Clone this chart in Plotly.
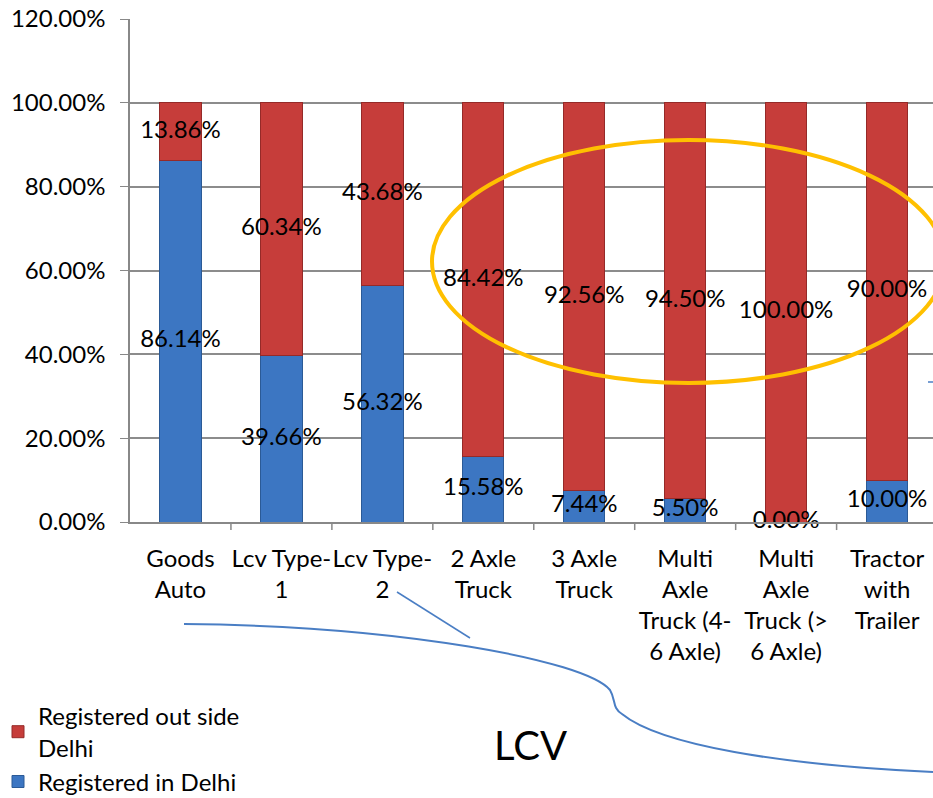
import plotly.graph_objects as go

categories = ["Goods<br>Auto", "Lcv Type-<br>1", "Lcv Type-<br>2", "2 Axle<br>Truck", "3 Axle<br>Truck",
              "Multi<br>Axle<br>Truck (4-<br>6 Axle)", "Multi<br>Axle<br>Truck (><br>6 Axle)", "Tractor<br>with<br>Trailer"]
in_delhi = [0.8614, 0.3966, 0.5632, 0.1558, 0.0744, 0.0550, 0.0000, 0.1000]
out_delhi = [0.1386, 0.6034, 0.4368, 0.8442, 0.9256, 0.9450, 1.0000, 0.9000]
y_ticks = [0, 0.2, 0.4, 0.6, 0.8, 1.0, 1.2]

W, H = 933, 798
L, R, T, B = 130, 0, 19, 276
FONT = "Lato"
FS = 24

def px(x):
    return (x - L) / (W - L - R)

def py(y):
    return (H - B - y) / (H - T - B)

fig = go.Figure()
fig.add_trace(go.Bar(x=list(range(len(categories))), y=in_delhi, name="Registered in Delhi",
                     marker=dict(color="#3C76C2", line=dict(color="#2B5A96", width=1)), width=0.41))
fig.add_trace(go.Bar(x=list(range(len(categories))), y=out_delhi, name="Registered out side<br>Delhi",
                     marker=dict(color="#C63D3A", line=dict(color="#952A28", width=1)), width=0.41))

# value labels centred in each segment
fig.add_trace(go.Scatter(x=list(range(len(categories))), y=[v / 2 for v in in_delhi], mode="text",
                         text=[f"{v*100:.2f}%" for v in in_delhi], textfont=dict(size=FS, color="black", family=FONT),
                         showlegend=False, hoverinfo="skip", cliponaxis=False))
fig.add_trace(go.Scatter(x=list(range(len(categories))), y=[a + b / 2 for a, b in zip(in_delhi, out_delhi)], mode="text",
                         text=[f"{v*100:.2f}%" for v in out_delhi], textfont=dict(size=FS, color="black", family=FONT),
                         showlegend=False, hoverinfo="skip", cliponaxis=False))

shapes = []
# orange ellipse
shapes.append(dict(type="circle", xref="paper", yref="paper", x0=px(432), x1=px(945), y0=py(383), y1=py(140),
                   line=dict(color="#FFC000", width=4)))
# blue brace-like curve
path = (f"M {px(184)},{py(624)} C {px(400)},{py(626)} {px(585)},{py(660)} {px(610)},{py(690)} "
        f"C {px(616)},{py(700)} {px(612)},{py(708)} {px(622)},{py(714)} "
        f"C {px(660)},{py(745)} {px(780)},{py(765)} {px(933)},{py(772)}")
shapes.append(dict(type="path", xref="paper", yref="paper", path=path, line=dict(color="#4A7EC4", width=2)))
shapes.append(dict(type="line", xref="paper", yref="paper", x0=px(397), y0=py(592), x1=px(470), y1=py(638),
                   line=dict(color="#4A7EC4", width=1.5)))
shapes.append(dict(type="line", xref="paper", yref="paper", x0=px(928), y0=py(382), x1=px(933), y1=py(382),
                   line=dict(color="#4A7EC4", width=1.5)))

fig.update_layout(
    width=W, height=H, margin=dict(l=L, r=R, t=T, b=B, autoexpand=False),
    barmode="stack", bargap=0.59,
    plot_bgcolor="white", paper_bgcolor="white",
    font=dict(family=FONT, size=FS, color="black"),
    shapes=shapes,
    annotations=[dict(text="LCV", xref="paper", yref="paper", x=px(530), y=py(745), showarrow=False,
                      font=dict(size=40, family=FONT, color="black"), xanchor="center", yanchor="middle")],
    legend=dict(x=px(-2), y=py(804), xref="paper", yref="paper", xanchor="left", yanchor="bottom",
                font=dict(size=FS, family=FONT), bgcolor="rgba(0,0,0,0)", itemwidth=30, tracegroupgap=0),
    xaxis=dict(tickmode="array", tickvals=list(range(len(categories))), ticktext=categories,
               range=[-0.5, 7.455], showgrid=False, showline=True, linecolor="#888", linewidth=1.5,
               ticks="", tickangle=0, tickfont=dict(size=FS, family=FONT), zeroline=False, ticklabelstandoff=14),
    yaxis=dict(range=[0, 1.2], tickvals=y_ticks, tickformat=".2%", showgrid=True, gridcolor="#8c8c8c",
               gridwidth=1.5, showline=True, linecolor="#888", linewidth=1.5, ticks="outside", ticklen=8,
               tickcolor="#888", tickfont=dict(size=FS, family=FONT), zeroline=False, ticklabelstandoff=10),
)

# category boundary tick marks on x axis
for i in range(8):
    fig.add_shape(type="line", xref="x", yref="paper", x0=i + 0.5, x1=i + 0.5, y0=0, y1=-0.016,
                  line=dict(color="#888", width=1.5))

fig.write_html("out.html")
